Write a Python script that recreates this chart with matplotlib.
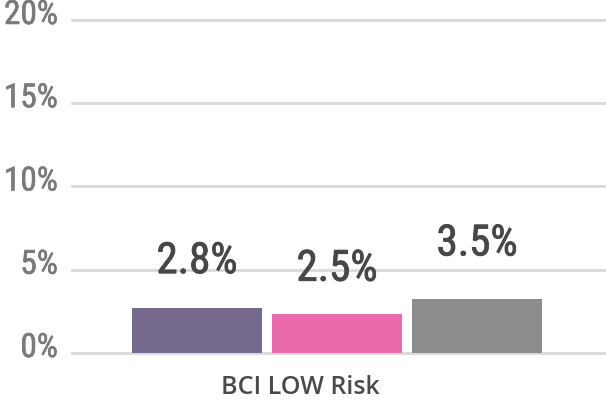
import matplotlib
matplotlib.use("Agg")
import matplotlib.pyplot as plt
import matplotlib.transforms as mtransforms
import matplotlib.patheffects as pe
from matplotlib import font_manager

# data
category = "BCI LOW Risk"
bar_values = [2.7, 2.35, 3.25]
value_labels = ["2.8%", "2.5%", "3.5%"]
label_values = [2.8, 2.5, 3.5]
colors = ["#756a8e", "#e96aab", "#8c8c8c"]
yticks = [0, 5, 10, 15, 20]
ytick_labels = ["0%", "5%", "10%", "15%", "20%"]

# pick a narrow font if one is installed
names = {f.name for f in font_manager.fontManager.ttflist}
narrow = None
for cand in ["Liberation Sans Narrow", "DejaVu Sans Condensed", "Roboto Condensed"]:
    if cand in names:
        narrow = cand
        break
if narrow is None:
    narrow_kw = dict(family="DejaVu Sans", fontstretch="condensed")
else:
    narrow_kw = dict(family=narrow)

fig = plt.figure(figsize=(6.06, 4.0), dpi=100)
ax = fig.add_axes([72 / 606, 1 - 353 / 400, 534 / 606, 333 / 400])

x = [-1, 0, 1]
ax.bar(x, bar_values, width=0.93, color=colors, zorder=3)

# value labels sit well above the bars
for xi, lv, txt in zip(x, label_values, value_labels):
    ax.text(xi, lv * 1.52, txt, ha="center", va="bottom", fontsize=31,
            color="#474747", **narrow_kw,
            path_effects=[pe.withStroke(linewidth=0.6, foreground="#474747")])

ax.set_xlim(-1.893, 1.921)
ax.set_ylim(0, 20)
ax.set_yticks(yticks)
ax.set_yticklabels([])
shift = mtransforms.ScaledTranslation(-14 / 100, 5 / 100, fig.dpi_scale_trans)
for yv, lab in zip(yticks, ytick_labels):
    ax.text(0, yv, lab, transform=ax.get_yaxis_transform() + shift,
            ha="right", va="center", fontsize=24, color="#7a7a7a", **narrow_kw,
            path_effects=[pe.withStroke(linewidth=0.4, foreground="#7a7a7a")])
ax.set_xticks([])
ax.yaxis.grid(True, color="#d9d9d9", linewidth=2, zorder=0)
for gl in ax.get_ygridlines():
    gl.set_clip_on(False)
ax.tick_params(length=0)
for s in ax.spines.values():
    s.set_visible(False)

ax.text(-0.264, -1.35, category, ha="center", va="top", fontsize=18,
        color="#4a4a4a", family="Open Sans", fontweight="semibold")

fig.savefig("out.png", dpi=100)
